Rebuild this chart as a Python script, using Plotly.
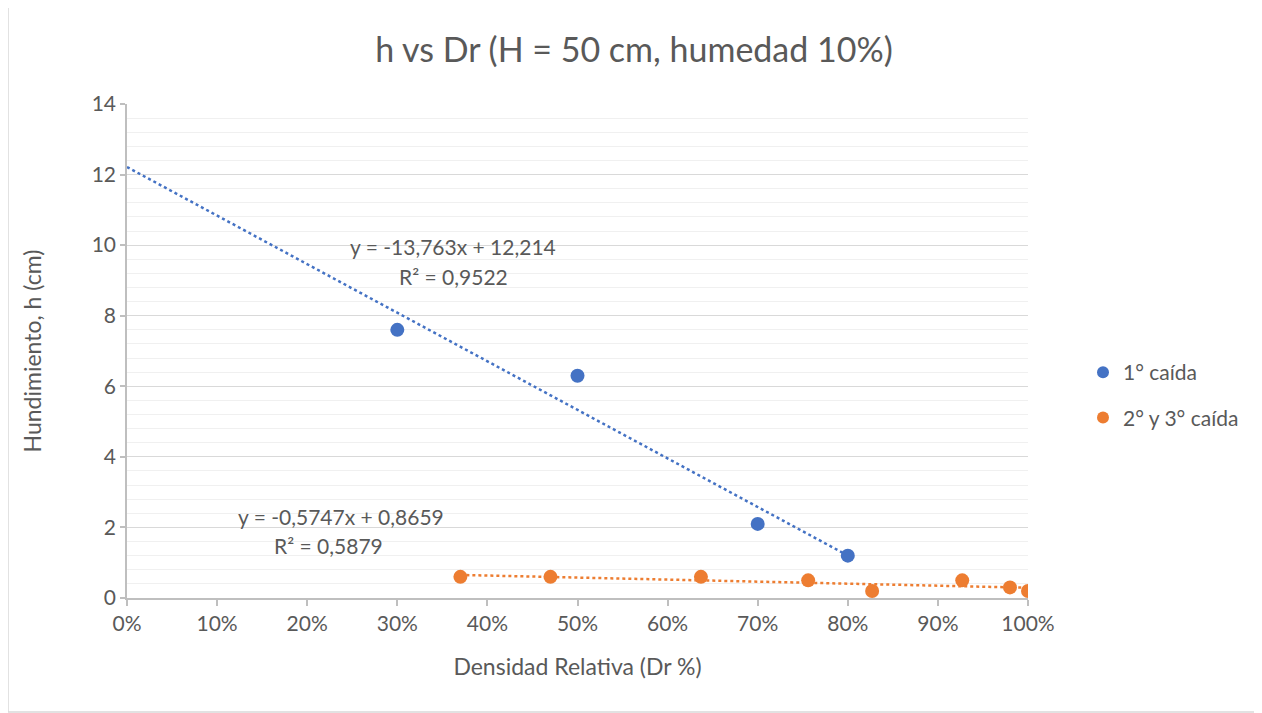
import numpy as np
import plotly.graph_objects as go

# Data
s1_name = "1° caída"
s1_x = [0.30, 0.50, 0.70, 0.80]
s1_y = [7.6, 6.3, 2.1, 1.2]

s2_name = "2° y 3° caída"
s2_x = [0.37, 0.47, 0.637, 0.756, 0.827, 0.927, 0.98, 1.00]
s2_y = [0.6, 0.6, 0.6, 0.5, 0.2, 0.5, 0.3, 0.2]

s1_eq = ["y = -13,763x + 12,214", "R² = 0,9522"]
s2_eq = ["y = -0,5747x + 0,8659", "R² = 0,5879"]

title = "h vs Dr (H = 50 cm, humedad 10%)"
x_title = "Densidad Relativa (Dr %)"
y_title = "Hundimiento, h (cm)"
x_ticks = [0, 0.1, 0.2, 0.3, 0.4, 0.5, 0.6, 0.7, 0.8, 0.9, 1.0]
y_ticks = [0, 2, 4, 6, 8, 10, 12, 14]

BLUE = "#4472C4"
ORANGE = "#ED7D31"
TXT = "#595959"
FONT = "Lato, 'Open Sans', sans-serif"

# page body has an 8px margin: plot area spans px x 127..1028, y 104..598
OFF = 8
W, H = 1262 - OFF, 713 - OFF
L, T = 127 - OFF, 104 - OFF
PW, PH = 901, 494
R, B = W - L - PW, H - T - PH

fig = go.Figure()

# Trendlines (linear least squares)
m1, b1 = np.polyfit(s1_x, s1_y, 1)
t1x = np.array([0.0, max(s1_x)])
fig.add_trace(go.Scatter(x=t1x, y=m1 * t1x + b1, mode="lines",
                         line=dict(color=BLUE, width=2.5, dash="dot"),
                         showlegend=False, hoverinfo="skip"))
m2, b2 = np.polyfit(s2_x, s2_y, 1)
t2x = np.array([min(s2_x), max(s2_x)])
fig.add_trace(go.Scatter(x=t2x, y=m2 * t2x + b2, mode="lines",
                         line=dict(color=ORANGE, width=2.5, dash="dot"),
                         showlegend=False, hoverinfo="skip"))

fig.add_trace(go.Scatter(x=s1_x, y=s1_y, mode="markers", name=s1_name, legendgroup="g1",
                         marker=dict(color=BLUE, size=14)))
fig.add_trace(go.Scatter(x=s2_x, y=s2_y, mode="markers", name=s2_name, legendgroup="g2",
                         marker=dict(color=ORANGE, size=14)))

# Equation labels
AF = dict(size=21, color=TXT, family=FONT)
fig.add_annotation(x=0.362, y=9.95, xref="x", yref="y", text=s1_eq[0], showarrow=False,
                   font=AF, xanchor="center", yanchor="middle")
fig.add_annotation(x=0.362, y=9.12, xref="x", yref="y", text=s1_eq[1], showarrow=False,
                   font=AF, xanchor="center", yanchor="middle")
fig.add_annotation(x=0.237, y=2.3, xref="x", yref="y", text=s2_eq[0], showarrow=False,
                   font=AF, xanchor="center", yanchor="middle")
fig.add_annotation(x=0.224, y=1.5, xref="x", yref="y", text=s2_eq[1], showarrow=False,
                   font=AF, xanchor="center", yanchor="middle")

# Outer border
fig.add_shape(type="rect", xref="paper", yref="paper",
              x0=(8 - 127) / PW, x1=(1261 - 127) / PW,
              y0=(598 - 712) / PH, y1=(598 - 6) / PH,
              line=dict(color="#D9D9D9", width=1.5), layer="below")

fig.update_layout(
    width=W, height=H,
    margin=dict(l=L, r=R, t=T, b=B, autoexpand=False),
    paper_bgcolor="white", plot_bgcolor="white",
    font=dict(family=FONT, color=TXT, size=21),
    title=dict(text=title, x=(634 - OFF) / W, xanchor="center", y=1 - (50 - OFF) / H, yanchor="middle",
               font=dict(size=34, color=TXT, family=FONT)),
    legend=dict(x=(1083 - 127) / PW, y=(598 - 395) / PH, xanchor="left", yanchor="middle",
                font=dict(size=21, color=TXT, family=FONT), itemsizing="constant",
                tracegroupgap=15, itemwidth=30, bgcolor="rgba(0,0,0,0)"),
    showlegend=True,
)

fig.update_xaxes(range=[0, 1.0], tickvals=x_ticks, tickformat=".0%",
                 showgrid=False, zeroline=False,
                 showline=True, linecolor="#BFBFBF", linewidth=1.5,
                 ticks="outside", ticklen=6, tickcolor="#BFBFBF", tickwidth=1.5,
                 tickfont=dict(size=21, color=TXT),
                 title=dict(text=x_title, font=dict(size=23, color=TXT), standoff=25))
fig.update_yaxes(range=[0, 14], tickvals=y_ticks,
                 showgrid=True, gridcolor="#D9D9D9", gridwidth=1.2,
                 minor=dict(dtick=0.4, showgrid=True, gridcolor="#F0F0F0", gridwidth=1),
                 zeroline=False,
                 showline=True, linecolor="#BFBFBF", linewidth=1.5,
                 ticks="outside", ticklen=5, tickcolor="#BFBFBF", tickwidth=1.5,
                 tickfont=dict(size=21, color=TXT),
                 title=dict(text=y_title, font=dict(size=23, color=TXT), standoff=44))

fig.write_html("out.html")
